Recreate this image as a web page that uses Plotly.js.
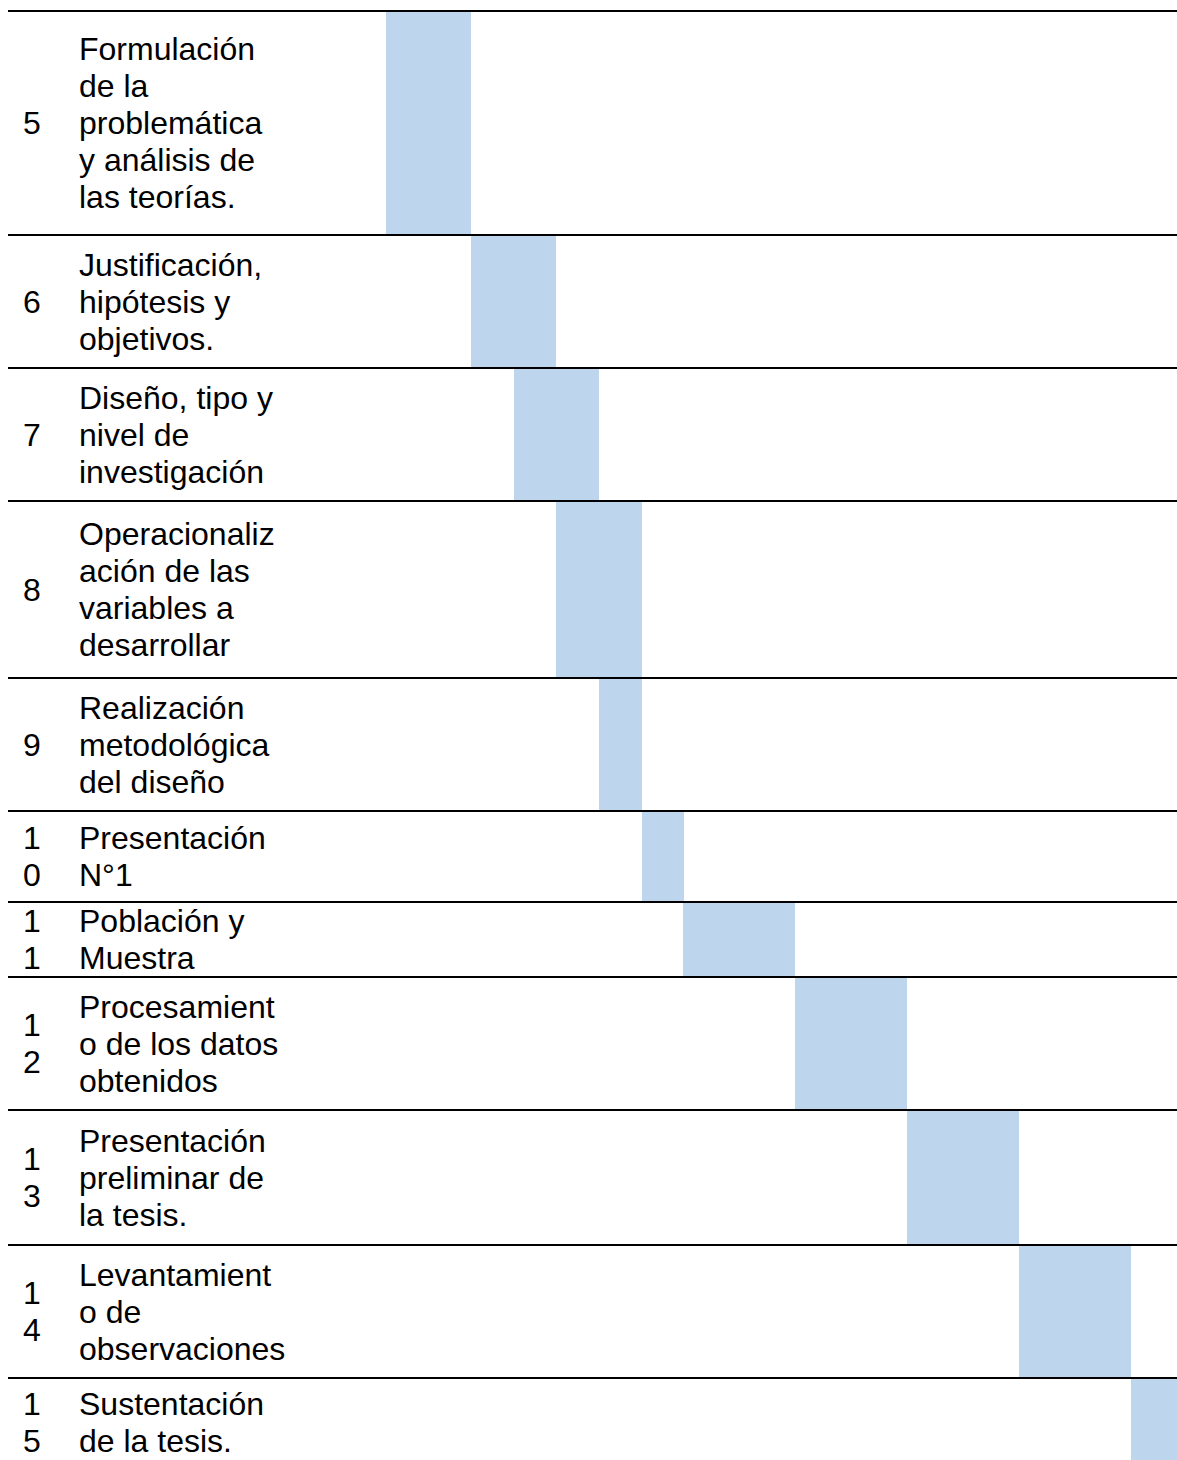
<!DOCTYPE html>
<html>
<head>
<meta charset="utf-8">
<script src="https://cdn.plot.ly/plotly-3.0.1.min.js"></script>
<style>
  html, body { margin: 0; padding: 0; background: #ffffff; }
  #chart { width: 1177px; height: 1460px; }
</style>
</head>
<body>
<div id="chart"></div>
<script>
// Activity numbers and names (line breaks as laid out in the table cells)
const activityIds = ['5', '6', '7', '8', '9', '10', '11', '12', '13', '14', '15'];
const activityNumberLines = [['5'], ['6'], ['7'], ['8'], ['9'], ['1', '0'], ['1', '1'], ['1', '2'], ['1', '3'], ['1', '4'], ['1', '5']];
const activityNames = [
  ['Formulación', 'de la', 'problemática', 'y análisis de', 'las teorías.'],
  ['Justificación,', 'hipótesis y', 'objetivos.'],
  ['Diseño, tipo y', 'nivel de', 'investigación'],
  ['Operacionaliz', 'ación de las', 'variables a', 'desarrollar'],
  ['Realización', 'metodológica', 'del diseño'],
  ['Presentación', 'N°1'],
  ['Población y', 'Muestra'],
  ['Procesamient', 'o de los datos', 'obtenidos'],
  ['Presentación', 'preliminar de', 'la tesis.'],
  ['Levantamient', 'o de', 'observaciones'],
  ['Sustentación', 'de la tesis.']
];
// Schedule (weeks from the start of the visible timeline)
const startWeek = [0, 2, 3, 4, 5, 6, 6.98, 9.6, 12.23, 14.86, 17.49];
const endWeek   = [2, 4, 5, 6, 6, 7, 9.6, 12.23, 14.86, 17.49, 19];

// ---- table geometry (vertical axis is measured in pixels of the table) ----
const tableTop = 11;
const rowHeights = [224, 133, 133, 177, 133, 91, 75, 133, 135, 133, 89];
const lineStep = 37;
const FONT = 'Liberation Sans, Arial, sans-serif';
const FONT_SIZE = 32;

const rowTops = [];
let acc = tableTop;
rowHeights.forEach(h => { rowTops.push(acc); acc += h; });
const rowCenters = rowTops.map((t, i) => t + rowHeights[i] / 2);
const boundaries = rowTops.concat([acc]);

const bars = {
  type: 'bar',
  orientation: 'h',
  y: rowCenters,
  base: startWeek,
  x: endWeek.map((e, i) => e - startWeek[i]),
  width: rowHeights,
  marker: { color: '#BDD6EE', line: { width: 0 } },
  text: activityIds,
  textposition: 'none',
  hoverinfo: 'skip',
  showlegend: false
};

const annotations = [];
function addLines(lines, center, xPaper, anchor) {
  const n = lines.length;
  lines.forEach((txt, k) => {
    annotations.push({
      xref: 'paper', yref: 'y',
      x: xPaper, y: center + (k - (n - 1) / 2) * lineStep,
      text: txt, showarrow: false,
      xanchor: anchor, yanchor: 'middle',
      font: { family: FONT, size: FONT_SIZE, color: '#000000' }
    });
  });
}
activityNames.forEach((lines, i) => {
  addLines(activityNumberLines[i], rowCenters[i], 32 / 1177, 'center');
  addLines(lines, rowCenters[i], 77 / 1177, 'left');
});

// Horizontal rules between rows
const shapes = boundaries.map(yb => ({
  type: 'line', xref: 'paper', yref: 'y',
  x0: 8 / 1177, x1: 1, y0: yb, y1: yb,
  line: { color: '#000000', width: 2 },
  layer: 'above'
}));

const layout = {
  width: 1177, height: 1460,
  margin: { l: 0, r: 0, t: 0, b: 0, pad: 0 },
  paper_bgcolor: '#ffffff', plot_bgcolor: '#ffffff',
  xaxis: { range: [-9.061, 18.568], visible: false, fixedrange: true },
  yaxis: { range: [1460, 0], visible: false, fixedrange: true },
  bargap: 0,
  shapes: shapes,
  annotations: annotations,
  hovermode: false,
  showlegend: false
};

Plotly.newPlot('chart', [bars], layout, { staticPlot: true, displayModeBar: false });
</script>
</body>
</html>
